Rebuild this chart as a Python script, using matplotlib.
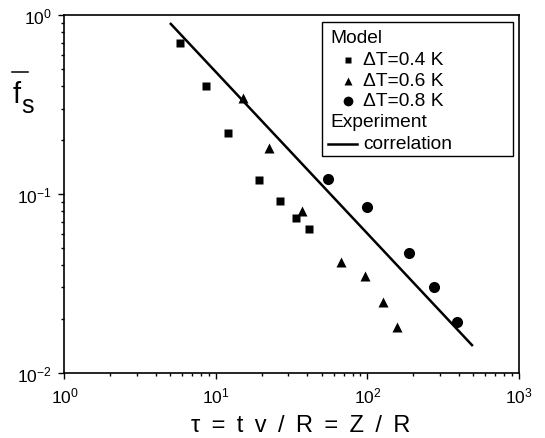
import numpy as np
import matplotlib
matplotlib.use('Agg')
import matplotlib.pyplot as plt
from matplotlib.patches import Rectangle
from matplotlib.lines import Line2D

plt.rcParams['font.family'] = ['Liberation Sans', 'DejaVu Sans']
plt.rcParams['mathtext.fontset'] = 'custom'
plt.rcParams['mathtext.rm'] = 'Liberation Sans'
plt.rcParams['mathtext.it'] = 'Liberation Sans'
plt.rcParams['mathtext.default'] = 'regular'

# model results
tau_04 = [5.8, 8.6, 12.0, 19.2, 26.5, 33.7, 41.1]
fs_04 = [0.697, 0.401, 0.219, 0.119, 0.0912, 0.0732, 0.0636]

tau_06 = [15.1, 22.4, 37.0, 66.8, 96.2, 126, 157]
fs_06 = [0.343, 0.180, 0.080, 0.0416, 0.0347, 0.0248, 0.018]

tau_08 = [54.8, 99.3, 188, 275, 390]
fs_08 = [0.121, 0.0844, 0.0467, 0.0301, 0.0192]

# experimental correlation (end points)
tau_corr = [4.97, 497]
fs_corr = [0.902, 0.0141]

W, H = 545, 439
fig = plt.figure(figsize=(W / 100, H / 100), dpi=100)
ax = fig.add_axes([0.1183, 0.1487, 0.952 - 0.1183, 0.9636 - 0.1487])

ax.plot(tau_corr, fs_corr, color='black', lw=1.8, solid_capstyle='butt')
ax.plot(tau_04, fs_04, 's', color='black', ms=6, mec='none')
ax.plot(tau_06, fs_06, '^', color='black', ms=7.5, mec='none')
ax.plot(tau_08, fs_08, 'o', color='black', ms=8, mec='none')

ax.set_xscale('log')
ax.set_yscale('log')
ax.set_xlim(1, 1000)
ax.set_ylim(0.01, 1)

for s in ['left', 'bottom', 'right', 'top']:
    ax.spines[s].set_linewidth(1.2)
ax.tick_params(which='both', direction='out', top=False, right=False, labelsize=12.5, width=1)
ax.tick_params(which='major', length=4, pad=5)
ax.tick_params(which='minor', length=2.5)

# x label, slightly widened spacing like the original
sp = ' \u2009'
xlab = sp.join(['τ', '=', 't', 'v', '/', 'R', '=', 'Z', '/', 'R'])
ax.text(0.520, (373.7 - 432) / 357.7, xlab, transform=ax.transAxes, fontsize=17,
        ha='center', va='baseline')

# y label: f with overbar and subscript s
fig.text(13 / W, 1 - 103 / H, 'f', fontsize=21, ha='left', va='baseline')
fig.text(21 / W, 1 - 113 / H, 's', fontsize=18, ha='left', va='baseline')
fig.add_artist(Line2D([12 / W, 28 / W], [1 - 73 / H, 1 - 73 / H], color='black', lw=1.1))

# legend box drawn by hand so the group titles sit flush left
def ay(py):
    return (373.7 - py) / 357.7

def axx(px):
    return (px - 64.5) / 454.5

ax.add_patch(Rectangle((axx(322), ay(157)), axx(513) - axx(322), ay(23) - ay(157),
                       transform=ax.transAxes, fill=False, lw=1.0, ec='black'))

fsz = 13.8
tx = axx(363)
ax.text(axx(330), ay(39), 'Model', transform=ax.transAxes, fontsize=fsz, va='center')
rows = [('s', 5, 'ΔT=0.4 K', 61), ('^', 6, 'ΔT=0.6 K', 82), ('o', 7, 'ΔT=0.8 K', 102)]
for m, ms, lab, py in rows:
    ax.add_line(Line2D([axx(348)], [ay(py)], marker=m, ms=ms, color='black', mec='none',
                       transform=ax.transAxes))
    ax.text(tx, ay(py), lab, transform=ax.transAxes, fontsize=fsz, va='center')
ax.text(axx(330), ay(123), 'Experiment', transform=ax.transAxes, fontsize=fsz, va='center')
ax.add_line(Line2D([axx(328), axx(357)], [ay(145), ay(145)], color='black', lw=1.8,
                   transform=ax.transAxes))
ax.text(tx, ay(145), 'correlation', transform=ax.transAxes, fontsize=fsz, va='center')

fig.savefig('out.png', dpi=100)
